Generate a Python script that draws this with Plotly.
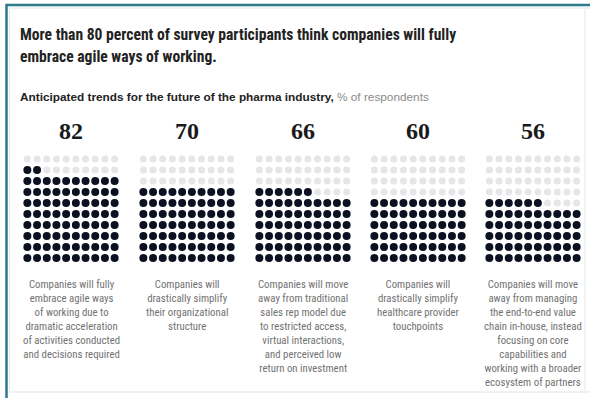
import plotly.graph_objects as go

# ---------------- data ----------------
values = [82, 70, 66, 60, 56]
value_labels = ["82", "70", "66", "60", "56"]
descriptions = [
    ["Companies will fully", "embrace agile ways", "of working due to",
     "dramatic acceleration", "of activities conducted", "and decisions required"],
    ["Companies will", "drastically simplify", "their organizational", "structure"],
    ["Companies will move", "away from traditional", "sales rep model due",
     "to restricted access,", "virtual interactions,", "and perceived low",
     "return on investment"],
    ["Companies will", "drastically simplify", "healthcare provider", "touchpoints"],
    ["Companies will move", "away from managing", "the end-to-end value",
     "chain in-house, instead", "focusing on core", "capabilities and",
     "working with a broader", "ecosystem of partners"],
]
title_lines = ["More than 80 percent of survey participants think companies will fully",
               "embrace agile ways of working."]
subtitle_bold = "Anticipated trends for the future of the pharma industry,"
subtitle_rest = " % of respondents"

# ---------------- layout ----------------
W, H = 590, 398
group_centers = [71, 187, 303, 418, 533]
col_step = 9.7
row_step = 11.0
bottom_row_y = 258
dark = "#0c1122"
light = "#e6e6e8"

fx, fy, ex, ey = [], [], [], []
for gc, v in zip(group_centers, values):
    for i in range(100):
        r, c = divmod(i, 10)
        x = gc + (c - 4.5) * col_step
        y = bottom_row_y - r * row_step
        if i < v:
            fx.append(x); fy.append(y)
        else:
            ex.append(x); ey.append(y)

fig = go.Figure()
fig.add_trace(go.Scatter(x=ex, y=ey, mode="markers", hoverinfo="skip",
                         marker=dict(size=7, color=light, line=dict(width=0))))
fig.add_trace(go.Scatter(x=fx, y=fy, mode="markers", hoverinfo="skip",
                         marker=dict(size=8, color=dark, line=dict(width=0))))

cond = "Roboto Condensed, Liberation Sans, Arial, sans-serif"
sans = "Liberation Sans, Arial, sans-serif"
ann = []
ann.append(dict(x=18, y=35, text="<b>" + title_lines[0] + "</b>", showarrow=False,
                xanchor="left", yanchor="middle",
                font=dict(family=cond, size=15.6, color="#222222")))
ann.append(dict(x=18, y=57, text="<b>" + title_lines[1] + "</b>", showarrow=False,
                xanchor="left", yanchor="middle",
                font=dict(family=cond, size=15.6, color="#222222")))
ann.append(dict(x=18, y=97,
                text="<b>" + subtitle_bold + "</b><span style='color:#8a8a8a'>" + subtitle_rest + "</span>",
                showarrow=False, xanchor="left", yanchor="middle",
                font=dict(family=sans, size=11.8, color="#222222")))
for gc, lab, desc in zip(group_centers, value_labels, descriptions):
    ann.append(dict(x=gc, y=131, text="<b>" + lab + "</b>", showarrow=False, xanchor="center",
                    yanchor="middle",
                    font=dict(family="Liberation Serif, Times New Roman, serif",
                              size=24, color="#1a1a1a")))
    ann.append(dict(x=gc, y=276, text="<br>".join(desc), showarrow=False,
                    xanchor="center", yanchor="top", align="center",
                    font=dict(family=cond, size=10.8, color="#727272")))

shapes = [
    dict(type="line", x0=6.5, x1=6.5, y0=4, y1=398, line=dict(color="#2b7b8a", width=2.5)),
    dict(type="line", x0=6, x1=590, y0=5, y1=5, line=dict(color="#2b7b8a", width=2.5)),
    dict(type="line", x0=9, x1=590, y0=8, y1=8, line=dict(color="#dbe9ee", width=1)),
    dict(type="line", x0=9.5, x1=9.5, y0=8, y1=392, line=dict(color="#dbe9ee", width=1)),
    dict(type="line", x0=9, x1=590, y0=392, y1=392, line=dict(color="#e8eef0", width=1.5)),
    dict(type="line", x0=585, x1=585, y0=8, y1=392, line=dict(color="#eef2f3", width=1.5)),
]

fig.update_layout(
    width=W, height=H, margin=dict(l=0, r=0, t=0, b=0),
    paper_bgcolor="white", plot_bgcolor="white", showlegend=False,
    xaxis=dict(range=[0, W], visible=False, fixedrange=True),
    yaxis=dict(range=[H, 0], visible=False, fixedrange=True),
    annotations=ann, shapes=shapes,
)
fig.write_html("out.html", config={"displayModeBar": False},
               post_script="document.body.style.margin='0';")
